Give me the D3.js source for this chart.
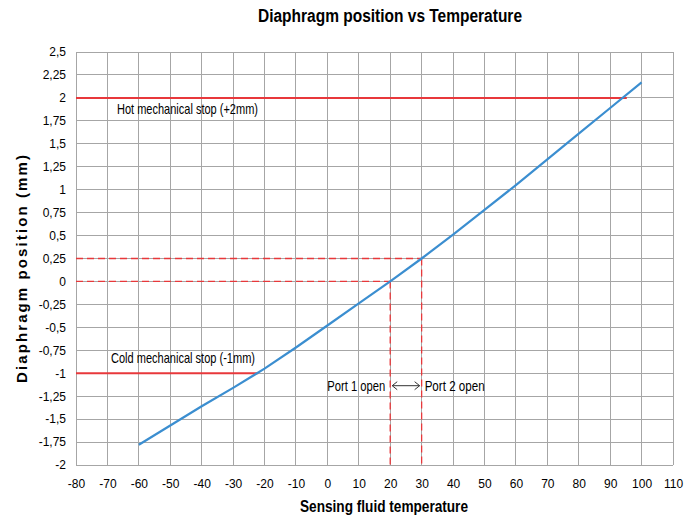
<!DOCTYPE html>
<html>
<head>
<meta charset="utf-8">
<script src="https://cdn.jsdelivr.net/npm/d3@7"></script>
<style>
  body { margin: 0; background: #fff; }
  text { font-family: "Liberation Sans Narrow", "Arial Narrow", "Liberation Sans", sans-serif; }
</style>
</head>
<body>
<div id="chart"></div>
<script>
// Diaphragm position vs temperature
const temps = [-60, -50, -40, -30, -20, -10, 0, 10, 20, 30, 40, 50, 60, 70, 80, 90, 100];
const positions = [-1.78, -1.57, -1.36, -1.16, -0.95, -0.72, -0.48, -0.24, 0, 0.25, 0.51, 0.78, 1.05, 1.33, 1.61, 1.89, 2.17];

const xTicks = d3.range(-80, 111, 10);
const yTicks = d3.range(-2, 2.51, 0.25);

// mechanical stops: label, position, end temperature
const stops = [
  { label: 'Hot mechanical stop (+2mm)', y: 2, xEnd: 95.3, dy: 16, len: 141 },
  { label: 'Cold mechanical stop (-1mm)', y: -1, xEnd: -22, dy: -10, len: 144 }
];
// port opening points
const ports = [
  { label: 'Port 1 open', t: 20, y: 0 },
  { label: 'Port 2 open', t: 30, y: 0.25 }
];

const W = 689, H = 518;
const margin = { top: 52, right: 16, bottom: 53, left: 76 };

const svg = d3.select('#chart').append('svg')
  .attr('width', W)
  .attr('height', H);

const x = d3.scaleLinear().domain([-80, 110]).range([margin.left, W - margin.right]);
const y = d3.scaleLinear().domain([-2, 2.5]).range([H - margin.bottom, margin.top]);

const fmt = d => String(+d.toFixed(2)).replace('.', ',');

// grid
svg.append('g')
  .selectAll('line')
  .data(xTicks)
  .join('line')
  .attr('x1', d => x(d)).attr('x2', d => x(d))
  .attr('y1', y(2.5)).attr('y2', y(-2))
  .attr('stroke', '#a6a6a6')
  .attr('shape-rendering', 'crispEdges');

svg.append('g')
  .selectAll('line')
  .data(yTicks)
  .join('line')
  .attr('x1', x(-80)).attr('x2', x(110))
  .attr('y1', d => y(d)).attr('y2', d => y(d))
  .attr('stroke', '#a6a6a6')
  .attr('shape-rendering', 'crispEdges');

// axes (labels only)
const yAxis = svg.append('g')
  .attr('transform', `translate(${x(-80)},0)`)
  .call(d3.axisLeft(y).tickValues(yTicks).tickFormat(fmt).tickSize(0).tickPadding(10));
const xAxis = svg.append('g')
  .attr('transform', `translate(0,${y(-2)})`)
  .call(d3.axisBottom(x).tickValues(xTicks).tickFormat(d => d).tickSize(0).tickPadding(14));
[yAxis, xAxis].forEach(a => {
  a.select('.domain').remove();
  a.selectAll('text')
    .style('font-family', '"Liberation Sans Narrow", "Arial Narrow", sans-serif')
    .style('font-size', '12px')
    .attr('fill', '#000');
});

// mechanical stops
svg.selectAll('line.stop')
  .data(stops)
  .join('line')
  .attr('class', 'stop')
  .attr('x1', x(-80)).attr('x2', d => x(d.xEnd))
  .attr('y1', d => y(d.y)).attr('y2', d => y(d.y))
  .attr('stroke', '#e8383b')
  .attr('stroke-width', 2);

svg.selectAll('text.stop')
  .data(stops)
  .join('text')
  .attr('class', 'stop')
  .attr('x', d => d.y > 0 ? 117 : 111)
  .attr('y', d => y(d.y) + d.dy)
  .attr('textLength', d => d.len)
  .attr('lengthAdjust', 'spacingAndGlyphs')
  .style('font-size', '14.5px')
  .text(d => d.label);

// dashed port guides
const dash = svg.append('g')
  .attr('stroke', '#e8383b')
  .attr('stroke-width', 1.3)
  .attr('stroke-dasharray', '7,4')
  .attr('fill', 'none');
dash.selectAll('line.h')
  .data(ports)
  .join('line')
  .attr('x1', x(-80)).attr('x2', d => x(d.t))
  .attr('y1', d => y(d.y)).attr('y2', d => y(d.y));
dash.selectAll('line.v')
  .data(ports)
  .join('line')
  .attr('x1', d => x(d.t)).attr('x2', d => x(d.t))
  .attr('y1', d => y(d.y)).attr('y2', y(-2));

// curve
const line = d3.line()
  .x((d, i) => x(temps[i]))
  .y(d => y(d));
svg.append('path')
  .datum(positions)
  .attr('d', line)
  .attr('fill', 'none')
  .attr('stroke', '#3b8ed0')
  .attr('stroke-width', 2.2);

// port labels and arrow
const py = y(-1.125) + 1;
svg.append('text')
  .attr('x', x(ports[0].t) - 5)
  .attr('y', py + 5)
  .attr('text-anchor', 'end')
  .attr('textLength', 58)
  .attr('lengthAdjust', 'spacingAndGlyphs')
  .style('font-size', '14.5px')
  .text(ports[0].label);
svg.append('text')
  .attr('x', x(ports[1].t) + 3)
  .attr('y', py + 5)
  .attr('textLength', 60)
  .attr('lengthAdjust', 'spacingAndGlyphs')
  .style('font-size', '14.5px')
  .text(ports[1].label);

const ax1 = x(ports[0].t) + 2, ax2 = x(ports[1].t) - 2;
svg.append('path')
  .attr('d', `M${ax1},${py}H${ax2}M${ax1 + 5},${py - 4}L${ax1},${py}L${ax1 + 5},${py + 4}M${ax2 - 5},${py - 4}L${ax2},${py}L${ax2 - 5},${py + 4}`)
  .attr('fill', 'none')
  .attr('stroke', '#333')
  .attr('stroke-width', 1);

// titles
svg.append('text')
  .attr('x', 390)
  .attr('y', 22)
  .attr('text-anchor', 'middle')
  .attr('textLength', 264)
  .attr('lengthAdjust', 'spacingAndGlyphs')
  .style('font-size', '18px')
  .style('font-weight', 'bold')
  .text('Diaphragm position vs Temperature');

svg.append('text')
  .attr('x', 384)
  .attr('y', 512)
  .attr('text-anchor', 'middle')
  .attr('textLength', 168)
  .attr('lengthAdjust', 'spacingAndGlyphs')
  .style('font-size', '16px')
  .style('font-weight', 'bold')
  .text('Sensing fluid temperature');

svg.append('text')
  .attr('transform', 'translate(27,269) rotate(-90)')
  .attr('text-anchor', 'middle')
  .attr('textLength', 228)
  .attr('lengthAdjust', 'spacing')
  .style('font-family', '"Liberation Sans", sans-serif')
  .style('font-size', '15px')
  .style('font-weight', 'bold')
  .text('Diaphragm position (mm)');
</script>
</body>
</html>
